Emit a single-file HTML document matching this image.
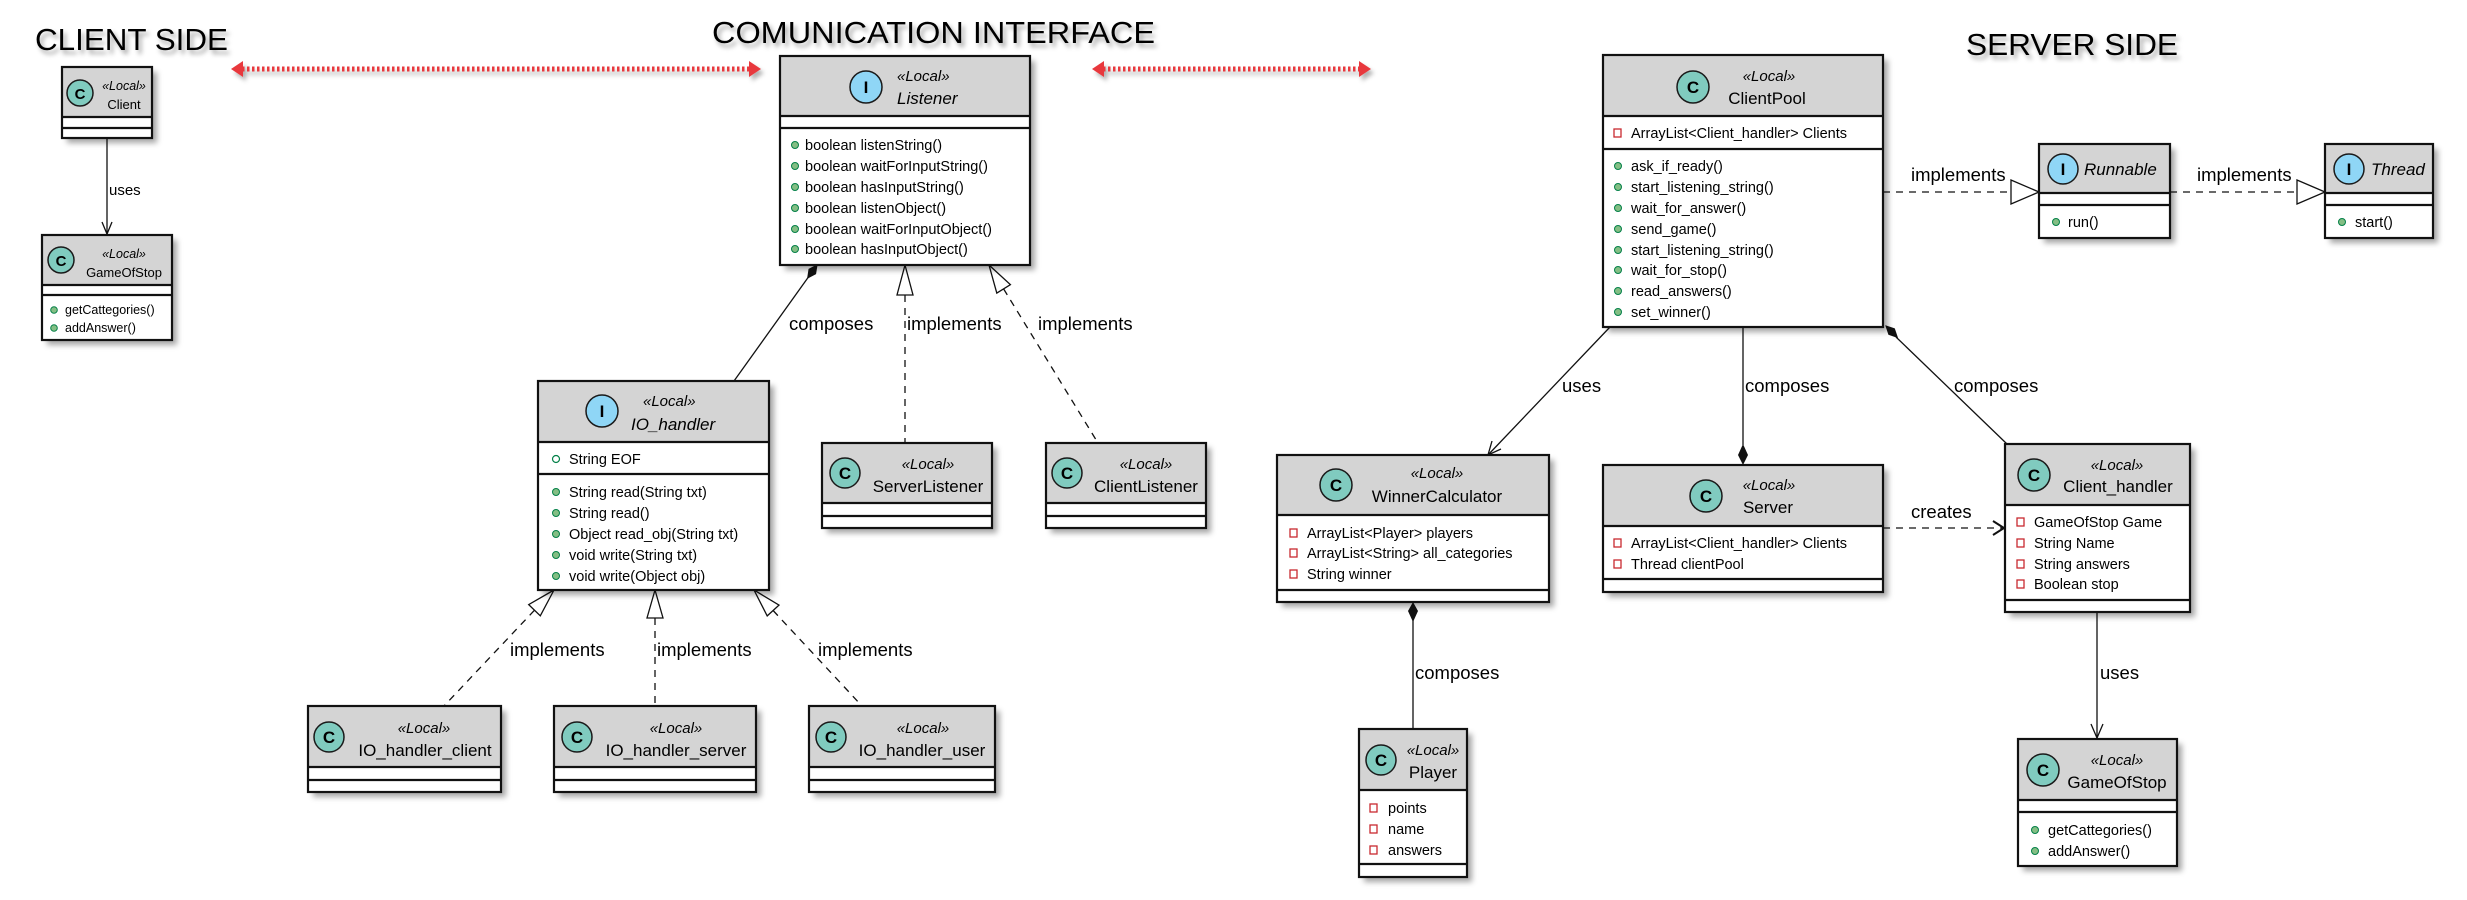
<!DOCTYPE html>
<html><head><meta charset="utf-8"><style>
html,body{margin:0;padding:0;background:#fff;}
svg{display:block;}
text{font-family:"Liberation Sans",Arial,sans-serif;fill:#000;}
.b{fill:#fff;filter:url(#sh);}
.h{fill:#d4d4d4;}
.o{fill:none;stroke:#111;stroke-width:2.2;}
.s{stroke:#111;stroke-width:2.2;}
.m{font-size:14.5px;}
.st{font-size:15px;font-style:italic;}
.nm{font-size:17px;}
.lb{font-size:18.5px;}
.ic{fill:#80cbbf;stroke:#1a1a1a;stroke-width:1.5;}
.ii{fill:#8fd6f6;stroke:#1a1a1a;stroke-width:1.5;}
.il{font-size:17px;font-weight:bold;text-anchor:middle;}
.bu{fill:#84be84;stroke:#038048;stroke-width:1;}
.pv{fill:none;stroke:#c82930;stroke-width:1.3;}
.ln{stroke:#111;stroke-width:1.3;fill:none;}
.dl{stroke:#111;stroke-width:1.3;fill:none;stroke-dasharray:7 6;}
.tri{fill:#fff;stroke:#111;stroke-width:1.3;}
.ttl{font-size:31px;filter:url(#tsh);}
</style></head><body>
<svg width="2467" height="900" viewBox="0 0 2467 900" xmlns="http://www.w3.org/2000/svg">
<defs>
<filter id="sh" x="-10%" y="-10%" width="130%" height="130%"><feDropShadow dx="5" dy="5" stdDeviation="3" flood-color="#000" flood-opacity="0.35"/></filter>
<filter id="tsh" x="-5%" y="-20%" width="115%" height="160%"><feDropShadow dx="3" dy="4" stdDeviation="2.5" flood-color="#000" flood-opacity="0.35"/></filter>
<filter id="rsh" x="-5%" y="-50%" width="110%" height="250%"><feDropShadow dx="3" dy="4" stdDeviation="2" flood-color="#000" flood-opacity="0.3"/></filter>
</defs>

<!-- titles -->
<text class="ttl" x="35" y="50" textLength="193" lengthAdjust="spacingAndGlyphs">CLIENT SIDE</text>
<text class="ttl" x="712" y="43" textLength="443" lengthAdjust="spacingAndGlyphs">COMUNICATION INTERFACE</text>
<text class="ttl" x="1966" y="55" textLength="212" lengthAdjust="spacingAndGlyphs">SERVER SIDE</text>

<!-- red arrows -->
<g filter="url(#rsh)">
<line x1="242" y1="69" x2="750" y2="69" stroke="#e8383d" stroke-width="5" stroke-dasharray="2.5 2.5"/>
<polygon points="231,69 243,61 243,77" fill="#e8383d"/>
<polygon points="761,69 749,61 749,77" fill="#e8383d"/>
<line x1="1103" y1="69" x2="1360" y2="69" stroke="#e8383d" stroke-width="5" stroke-dasharray="2.5 2.5"/>
<polygon points="1092,69 1104,61 1104,77" fill="#e8383d"/>
<polygon points="1371,69 1359,61 1359,77" fill="#e8383d"/>
</g>

<!-- ===== connectors ===== -->
<!-- Client uses GameOfStop -->
<line class="ln" x1="107" y1="138" x2="107" y2="234"/>
<polyline class="ln" points="102,222 107,234 112,222"/>
<text class="lb" x="109" y="195" style="font-size:15px">uses</text>

<!-- Listener composes IO_handler -->
<line class="ln" x1="812" y1="272" x2="734" y2="381"/>
<polygon points="817,265 815.6,273.8 807.7,278 809,269.2" fill="#111" stroke="#111"/>
<text class="lb" x="789" y="330">composes</text>
<!-- Listener implements ServerListener -->
<line class="dl" x1="905" y1="295" x2="905" y2="443"/>
<polygon class="tri" points="905,265 897,295 913,295"/>
<text class="lb" x="907" y="330">implements</text>
<!-- Listener implements ClientListener -->
<line class="dl" x1="1003.6" y1="288.9" x2="1098" y2="443"/>
<polygon class="tri" points="989,265 1010.4,284.7 996.8,293.1"/>
<text class="lb" x="1038" y="330">implements</text>

<!-- IO_handler implementations -->
<line class="dl" x1="534.5" y1="610.2" x2="444" y2="706"/>
<polygon class="tri" points="554,590 540.3,615.8 528.7,604.6"/>
<text class="lb" x="510" y="656">implements</text>
<line class="dl" x1="655" y1="618" x2="655" y2="706"/>
<polygon class="tri" points="655,590 647,618 663,618"/>
<text class="lb" x="657" y="656">implements</text>
<line class="dl" x1="773.1" y1="610.5" x2="862" y2="706"/>
<polygon class="tri" points="754,590 779,605.1 767.2,615.9"/>
<text class="lb" x="818" y="656">implements</text>

<!-- ClientPool implements Runnable / Runnable implements Thread -->
<line class="dl" x1="1883" y1="192" x2="2011" y2="192"/>
<polygon class="tri" points="2039,192 2011,180 2011,204"/>
<text class="lb" x="1911" y="181">implements</text>
<line class="dl" x1="2170" y1="192" x2="2297" y2="192"/>
<polygon class="tri" points="2325,192 2297,180 2297,204"/>
<text class="lb" x="2197" y="181">implements</text>

<!-- ClientPool uses WinnerCalculator -->
<line class="ln" x1="1610" y1="327" x2="1488" y2="455"/>
<polyline class="ln" points="1501,449 1488,455 1492,441"/>
<text class="lb" x="1562" y="392">uses</text>
<!-- ClientPool composes Server -->
<line class="ln" x1="1743" y1="327" x2="1743" y2="445"/>
<polygon points="1743,465 1748,455 1743,444 1738,455" fill="#111"/>
<text class="lb" x="1745" y="392">composes</text>
<!-- ClientPool composes Client_handler -->
<line class="ln" x1="1896" y1="337" x2="2007" y2="444"/>
<polygon points="1886,326 1894.4,328.8 1897.3,337.3 1888.8,334.4" fill="#111" stroke="#111"/>
<text class="lb" x="1954" y="392">composes</text>

<!-- Server creates Client_handler -->
<line class="dl" x1="1883" y1="528" x2="2003" y2="528"/>
<polyline class="ln" style="stroke-width:2" points="1993,521 2004,528 1993,535"/>
<text class="lb" x="1911" y="518">creates</text>

<!-- WinnerCalculator composes Player -->
<line class="ln" x1="1413" y1="620" x2="1413" y2="729"/>
<polygon points="1413,602 1418,611 1413,622 1408,611" fill="#111"/>
<text class="lb" x="1415" y="679">composes</text>

<!-- Client_handler uses GameOfStop -->
<line class="ln" x1="2097" y1="612" x2="2097" y2="738"/>
<polyline class="ln" points="2091,724 2097,738 2103,724"/>
<text class="lb" x="2100" y="679">uses</text>

<!-- ===== boxes ===== -->
<!-- Client -->
<rect class="b" x="62" y="67" width="90" height="71"/>
<rect class="h" x="62" y="67" width="90" height="50"/>
<line class="s" x1="62" y1="117" x2="152" y2="117"/><line class="s" x1="62" y1="128" x2="152" y2="128"/>
<rect class="o" x="62" y="67" width="90" height="71"/>
<circle class="ic" cx="80" cy="93" r="13"/><text class="il" x="80" y="99" style="font-size:15px">C</text>
<text class="st" x="124" y="90" text-anchor="middle" style="font-size:12.5px">«Local»</text>
<text x="124" y="109" text-anchor="middle" style="font-size:13px">Client</text>

<!-- GameOfStop left -->
<rect class="b" x="42" y="235" width="130" height="105"/>
<rect class="h" x="42" y="235" width="130" height="50"/>
<line class="s" x1="42" y1="285" x2="172" y2="285"/><line class="s" x1="42" y1="295" x2="172" y2="295"/>
<rect class="o" x="42" y="235" width="130" height="105"/>
<circle class="ic" cx="61" cy="260" r="13"/><text class="il" x="61" y="266" style="font-size:15px">C</text>
<text class="st" x="124" y="258" text-anchor="middle" style="font-size:12.5px">«Local»</text>
<text x="124" y="277" text-anchor="middle" style="font-size:13px">GameOfStop</text>
<circle class="bu" cx="54" cy="310" r="3.3"/><text x="65" y="314" style="font-size:12.5px">getCattegories()</text>
<circle class="bu" cx="54" cy="328" r="3.3"/><text x="65" y="332" style="font-size:12.5px">addAnswer()</text>

<!-- Listener -->
<rect class="b" x="780" y="56" width="250" height="209"/>
<rect class="h" x="780" y="56" width="250" height="60"/>
<line class="s" x1="780" y1="116" x2="1030" y2="116"/><line class="s" x1="780" y1="128" x2="1030" y2="128"/>
<rect class="o" x="780" y="56" width="250" height="209"/>
<circle class="ii" cx="866" cy="87" r="16"/><text class="il" x="866" y="93">I</text>
<text class="st" x="897" y="81">«Local»</text>
<text class="nm" x="897" y="104" font-style="italic">Listener</text>
<g class="m">
<circle class="bu" cx="795" cy="145" r="3.5"/><text class="m" x="805" y="150">boolean listenString()</text>
<circle class="bu" cx="795" cy="166" r="3.5"/><text class="m" x="805" y="171">boolean waitForInputString()</text>
<circle class="bu" cx="795" cy="187" r="3.5"/><text class="m" x="805" y="192">boolean hasInputString()</text>
<circle class="bu" cx="795" cy="208" r="3.5"/><text class="m" x="805" y="213">boolean listenObject()</text>
<circle class="bu" cx="795" cy="229" r="3.5"/><text class="m" x="805" y="234">boolean waitForInputObject()</text>
<circle class="bu" cx="795" cy="249" r="3.5"/><text class="m" x="805" y="254">boolean hasInputObject()</text>
</g>

<!-- IO_handler -->
<rect class="b" x="538" y="381" width="231" height="209"/>
<rect class="h" x="538" y="381" width="231" height="61"/>
<line class="s" x1="538" y1="442" x2="769" y2="442"/><line class="s" x1="538" y1="474" x2="769" y2="474"/>
<rect class="o" x="538" y="381" width="231" height="209"/>
<circle class="ii" cx="602" cy="411" r="16"/><text class="il" x="602" y="417">I</text>
<text class="st" x="643" y="406">«Local»</text>
<text class="nm" x="631" y="430" font-style="italic">IO_handler</text>
<circle cx="556" cy="459" r="3.5" fill="none" stroke="#038048" stroke-width="1.2"/><text class="m" x="569" y="464">String EOF</text>
<circle class="bu" cx="556" cy="492" r="3.5"/><text class="m" x="569" y="497">String read(String txt)</text>
<circle class="bu" cx="556" cy="513" r="3.5"/><text class="m" x="569" y="518">String read()</text>
<circle class="bu" cx="556" cy="534" r="3.5"/><text class="m" x="569" y="539">Object read_obj(String txt)</text>
<circle class="bu" cx="556" cy="555" r="3.5"/><text class="m" x="569" y="560">void write(String txt)</text>
<circle class="bu" cx="556" cy="576" r="3.5"/><text class="m" x="569" y="581">void write(Object obj)</text>

<!-- ServerListener -->
<rect class="b" x="822" y="443" width="170" height="85"/>
<rect class="h" x="822" y="443" width="170" height="60"/>
<line class="s" x1="822" y1="503" x2="992" y2="503"/><line class="s" x1="822" y1="516" x2="992" y2="516"/>
<rect class="o" x="822" y="443" width="170" height="85"/>
<circle class="ic" cx="845" cy="473" r="15"/><text class="il" x="845" y="479">C</text>
<text class="st" x="928" y="469" text-anchor="middle">«Local»</text>
<text class="nm" x="928" y="492" text-anchor="middle">ServerListener</text>

<!-- ClientListener -->
<rect class="b" x="1046" y="443" width="160" height="85"/>
<rect class="h" x="1046" y="443" width="160" height="60"/>
<line class="s" x1="1046" y1="503" x2="1206" y2="503"/><line class="s" x1="1046" y1="516" x2="1206" y2="516"/>
<rect class="o" x="1046" y="443" width="160" height="85"/>
<circle class="ic" cx="1067" cy="473" r="15"/><text class="il" x="1067" y="479">C</text>
<text class="st" x="1146" y="469" text-anchor="middle">«Local»</text>
<text class="nm" x="1146" y="492" text-anchor="middle">ClientListener</text>

<!-- IO_handler_client -->
<rect class="b" x="308" y="706" width="193" height="86"/>
<rect class="h" x="308" y="706" width="193" height="61"/>
<line class="s" x1="308" y1="767" x2="501" y2="767"/><line class="s" x1="308" y1="780" x2="501" y2="780"/>
<rect class="o" x="308" y="706" width="193" height="86"/>
<circle class="ic" cx="329" cy="737" r="15"/><text class="il" x="329" y="743">C</text>
<text class="st" x="424" y="733" text-anchor="middle">«Local»</text>
<text class="nm" x="425" y="756" text-anchor="middle">IO_handler_client</text>

<!-- IO_handler_server -->
<rect class="b" x="554" y="706" width="202" height="86"/>
<rect class="h" x="554" y="706" width="202" height="61"/>
<line class="s" x1="554" y1="767" x2="756" y2="767"/><line class="s" x1="554" y1="780" x2="756" y2="780"/>
<rect class="o" x="554" y="706" width="202" height="86"/>
<circle class="ic" cx="577" cy="737" r="15"/><text class="il" x="577" y="743">C</text>
<text class="st" x="676" y="733" text-anchor="middle">«Local»</text>
<text class="nm" x="676" y="756" text-anchor="middle">IO_handler_server</text>

<!-- IO_handler_user -->
<rect class="b" x="809" y="706" width="186" height="86"/>
<rect class="h" x="809" y="706" width="186" height="61"/>
<line class="s" x1="809" y1="767" x2="995" y2="767"/><line class="s" x1="809" y1="780" x2="995" y2="780"/>
<rect class="o" x="809" y="706" width="186" height="86"/>
<circle class="ic" cx="831" cy="737" r="15"/><text class="il" x="831" y="743">C</text>
<text class="st" x="923" y="733" text-anchor="middle">«Local»</text>
<text class="nm" x="922" y="756" text-anchor="middle">IO_handler_user</text>

<!-- ClientPool -->
<rect class="b" x="1603" y="55" width="280" height="272"/>
<rect class="h" x="1603" y="55" width="280" height="61"/>
<line class="s" x1="1603" y1="116" x2="1883" y2="116"/><line class="s" x1="1603" y1="149" x2="1883" y2="149"/>
<rect class="o" x="1603" y="55" width="280" height="272"/>
<circle class="ic" cx="1693" cy="87" r="16"/><text class="il" x="1693" y="93">C</text>
<text class="st" x="1769" y="81" text-anchor="middle">«Local»</text>
<text class="nm" x="1767" y="104" text-anchor="middle">ClientPool</text>
<rect class="pv" x="1614" y="129" width="7" height="8"/><text class="m" x="1631" y="138">ArrayList&lt;Client_handler&gt; Clients</text>
<circle class="bu" cx="1618" cy="166" r="3.5"/><text class="m" x="1631" y="171">ask_if_ready()</text>
<circle class="bu" cx="1618" cy="187" r="3.5"/><text class="m" x="1631" y="192">start_listening_string()</text>
<circle class="bu" cx="1618" cy="208" r="3.5"/><text class="m" x="1631" y="213">wait_for_answer()</text>
<circle class="bu" cx="1618" cy="229" r="3.5"/><text class="m" x="1631" y="234">send_game()</text>
<circle class="bu" cx="1618" cy="250" r="3.5"/><text class="m" x="1631" y="255">start_listening_string()</text>
<circle class="bu" cx="1618" cy="270" r="3.5"/><text class="m" x="1631" y="275">wait_for_stop()</text>
<circle class="bu" cx="1618" cy="291" r="3.5"/><text class="m" x="1631" y="296">read_answers()</text>
<circle class="bu" cx="1618" cy="312" r="3.5"/><text class="m" x="1631" y="317">set_winner()</text>

<!-- Runnable -->
<rect class="b" x="2039" y="144" width="131" height="94"/>
<rect class="h" x="2039" y="144" width="131" height="49"/>
<line class="s" x1="2039" y1="193" x2="2170" y2="193"/><line class="s" x1="2039" y1="205" x2="2170" y2="205"/>
<rect class="o" x="2039" y="144" width="131" height="94"/>
<circle class="ii" cx="2063" cy="169" r="15"/><text class="il" x="2063" y="175">I</text>
<text class="nm" x="2084" y="175" font-style="italic">Runnable</text>
<circle class="bu" cx="2056" cy="222" r="3.5"/><text class="m" x="2068" y="227">run()</text>

<!-- Thread -->
<rect class="b" x="2325" y="144" width="108" height="94"/>
<rect class="h" x="2325" y="144" width="108" height="49"/>
<line class="s" x1="2325" y1="193" x2="2433" y2="193"/><line class="s" x1="2325" y1="205" x2="2433" y2="205"/>
<rect class="o" x="2325" y="144" width="108" height="94"/>
<circle class="ii" cx="2349" cy="169" r="15"/><text class="il" x="2349" y="175">I</text>
<text class="nm" x="2371" y="175" font-style="italic">Thread</text>
<circle class="bu" cx="2342" cy="222" r="3.5"/><text class="m" x="2355" y="227">start()</text>

<!-- WinnerCalculator -->
<rect class="b" x="1277" y="455" width="272" height="147"/>
<rect class="h" x="1277" y="455" width="272" height="60"/>
<line class="s" x1="1277" y1="515" x2="1549" y2="515"/><line class="s" x1="1277" y1="590" x2="1549" y2="590"/>
<rect class="o" x="1277" y="455" width="272" height="147"/>
<circle class="ic" cx="1336" cy="485" r="16"/><text class="il" x="1336" y="491">C</text>
<text class="st" x="1437" y="478" text-anchor="middle">«Local»</text>
<text class="nm" x="1437" y="502" text-anchor="middle">WinnerCalculator</text>
<rect class="pv" x="1290" y="529" width="7" height="8"/><text class="m" x="1307" y="538">ArrayList&lt;Player&gt; players</text>
<rect class="pv" x="1290" y="549" width="7" height="8"/><text class="m" x="1307" y="558">ArrayList&lt;String&gt; all_categories</text>
<rect class="pv" x="1290" y="570" width="7" height="8"/><text class="m" x="1307" y="579">String winner</text>

<!-- Server -->
<rect class="b" x="1603" y="465" width="280" height="127"/>
<rect class="h" x="1603" y="465" width="280" height="61"/>
<line class="s" x1="1603" y1="526" x2="1883" y2="526"/><line class="s" x1="1603" y1="579" x2="1883" y2="579"/>
<rect class="o" x="1603" y="465" width="280" height="127"/>
<circle class="ic" cx="1706" cy="496" r="16"/><text class="il" x="1706" y="502">C</text>
<text class="st" x="1769" y="490" text-anchor="middle">«Local»</text>
<text class="nm" x="1768" y="513" text-anchor="middle">Server</text>
<rect class="pv" x="1614" y="539" width="7" height="8"/><text class="m" x="1631" y="548">ArrayList&lt;Client_handler&gt; Clients</text>
<rect class="pv" x="1614" y="560" width="7" height="8"/><text class="m" x="1631" y="569">Thread clientPool</text>

<!-- Client_handler -->
<rect class="b" x="2005" y="444" width="185" height="168"/>
<rect class="h" x="2005" y="444" width="185" height="61"/>
<line class="s" x1="2005" y1="505" x2="2190" y2="505"/><line class="s" x1="2005" y1="600" x2="2190" y2="600"/>
<rect class="o" x="2005" y="444" width="185" height="168"/>
<circle class="ic" cx="2034" cy="475" r="16"/><text class="il" x="2034" y="481">C</text>
<text class="st" x="2117" y="470" text-anchor="middle">«Local»</text>
<text class="nm" x="2118" y="492" text-anchor="middle">Client_handler</text>
<rect class="pv" x="2017" y="518" width="7" height="8"/><text class="m" x="2034" y="527">GameOfStop Game</text>
<rect class="pv" x="2017" y="539" width="7" height="8"/><text class="m" x="2034" y="548">String Name</text>
<rect class="pv" x="2017" y="560" width="7" height="8"/><text class="m" x="2034" y="569">String answers</text>
<rect class="pv" x="2017" y="580" width="7" height="8"/><text class="m" x="2034" y="589">Boolean stop</text>

<!-- GameOfStop right -->
<rect class="b" x="2018" y="739" width="159" height="127"/>
<rect class="h" x="2018" y="739" width="159" height="61"/>
<line class="s" x1="2018" y1="800" x2="2177" y2="800"/><line class="s" x1="2018" y1="812" x2="2177" y2="812"/>
<rect class="o" x="2018" y="739" width="159" height="127"/>
<circle class="ic" cx="2043" cy="770" r="16"/><text class="il" x="2043" y="776">C</text>
<text class="st" x="2117" y="765" text-anchor="middle">«Local»</text>
<text class="nm" x="2117" y="788" text-anchor="middle">GameOfStop</text>
<circle class="bu" cx="2035" cy="830" r="3.5"/><text class="m" x="2048" y="835">getCattegories()</text>
<circle class="bu" cx="2035" cy="851" r="3.5"/><text class="m" x="2048" y="856">addAnswer()</text>

<!-- Player -->
<rect class="b" x="1359" y="729" width="108" height="148"/>
<rect class="h" x="1359" y="729" width="108" height="61"/>
<line class="s" x1="1359" y1="790" x2="1467" y2="790"/><line class="s" x1="1359" y1="864" x2="1467" y2="864"/>
<rect class="o" x="1359" y="729" width="108" height="148"/>
<circle class="ic" cx="1381" cy="760" r="15"/><text class="il" x="1381" y="766">C</text>
<text class="st" x="1433" y="755" text-anchor="middle">«Local»</text>
<text class="nm" x="1433" y="778" text-anchor="middle">Player</text>
<rect class="pv" x="1370" y="804" width="7" height="8"/><text class="m" x="1388" y="813">points</text>
<rect class="pv" x="1370" y="825" width="7" height="8"/><text class="m" x="1388" y="834">name</text>
<rect class="pv" x="1370" y="846" width="7" height="8"/><text class="m" x="1388" y="855">answers</text>
</svg>
</body></html>
